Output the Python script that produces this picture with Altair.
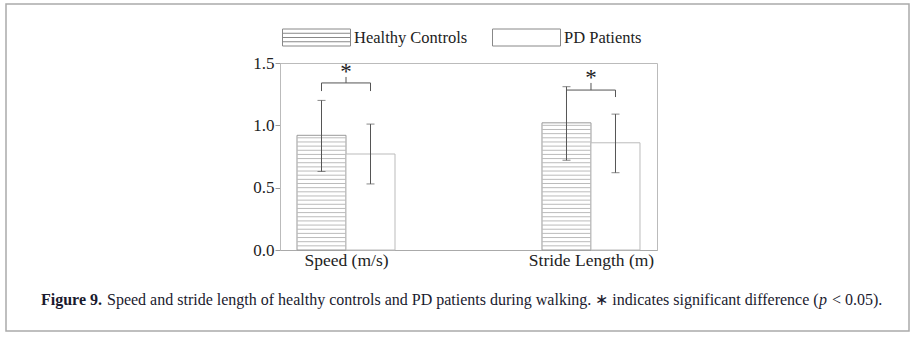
import altair as alt
import numpy as np
import pandas as pd

# ---- data ----
categories = ["Speed (m/s)", "Stride Length (m)"]
groups = ["Healthy Controls", "PD Patients"]
hc_mean = [0.92, 1.02]
pd_mean = [0.77, 0.86]
hc_low = [0.63, 0.72]
hc_high = [1.20, 1.31]
pd_low = [0.53, 0.62]
pd_high = [1.01, 1.09]
# significance brackets (y of bar, y of leg ends, y of stem top, y of star)
br_y = [1.34, 1.283]
br_leg = [1.275, 1.227]
br_stem = [1.388, 1.340]
star_y = [1.425, 1.378]
caption_bold = "Figure 9."
caption_a = ("Speed and stride length of healthy controls and PD patients during walking. "
             "\u2217 indicates significant difference (")
caption_p = "p"
caption_b = "<\u00a00.05)."

BW = 0.2  # bar width in category units
SERIF = "Liberation Serif"

rows = []
for i, c in enumerate(categories):
    rows.append(dict(cat=c, group=groups[0], x0=i - BW, x1=i, xc=i - BW / 2,
                     mean=hc_mean[i], lo=hc_low[i], hi=hc_high[i]))
    rows.append(dict(cat=c, group=groups[1], x0=i, x1=i + BW, xc=i + BW / 2,
                     mean=pd_mean[i], lo=pd_low[i], hi=pd_high[i]))
bars = pd.DataFrame(rows)

# horizontal hatch texture for healthy-control bars
hatch_rows = []
step = 1 / 30
for r in rows:
    if r["group"] == groups[0]:
        for h in np.arange(step, r["mean"], step):
            hatch_rows.append(dict(x0=r["x0"], x1=r["x1"], h=h))
hatch = pd.DataFrame(hatch_rows)

brk = pd.DataFrame(dict(xl=[i - BW / 2 for i in range(2)], xr=[i + BW / 2 for i in range(2)],
                        xm=list(range(2)), y=br_y, leg=br_leg, stem=br_stem, star=star_y))

xscale = alt.Scale(domain=[-0.2694, 1.2694], nice=False, zero=False)
yscale = alt.Scale(domain=[0, 1.5], nice=False)
label_expr = "datum.value == 0 ? '%s' : '%s'" % (categories[0], categories[1])

xax = alt.Axis(values=[0, 1], labelExpr=label_expr, ticks=False, grid=False, title=None,
               labelFont=SERIF, labelFontSize=17.5, labelColor="#222", domainColor="#aaa",
               labelPadding=1)
yax = alt.Axis(values=[0, 0.5, 1.0, 1.5], format=".1f", grid=False, title=None,
               labelFont=SERIF, labelFontSize=17, labelColor="#222", domainColor="#bbb",
               tickColor="#999", tickSize=5, labelPadding=1)

base = alt.Chart(bars)

bar_hc = base.transform_filter(alt.datum.group == groups[0]).mark_rect(
    fill="white", stroke="#999", strokeWidth=1).encode(
    x=alt.X("x0:Q", scale=xscale, axis=xax), x2="x1:Q",
    y=alt.Y("mean:Q", scale=yscale, axis=yax), y2=alt.datum(0))
bar_pd = base.transform_filter(alt.datum.group == groups[1]).mark_rect(
    fill="white", stroke="#bbb", strokeWidth=1).encode(
    x=alt.X("x0:Q", scale=xscale), x2="x1:Q",
    y=alt.Y("mean:Q", scale=yscale), y2=alt.datum(0))

hatch_l = alt.Chart(hatch).mark_rule(color="#bbb", strokeWidth=1).encode(
    x=alt.X("x0:Q", scale=xscale), x2="x1:Q", y=alt.Y("h:Q", scale=yscale))

err = base.mark_errorbar(ticks=alt.MarkConfig(size=8), color="#555", thickness=1).encode(
    x=alt.X("xc:Q", scale=xscale), y=alt.Y("lo:Q", scale=yscale, title=None), y2="hi:Q")

bc = alt.Chart(brk)
br_h = bc.mark_rule(color="#555").encode(
    x=alt.X("xl:Q", scale=xscale), x2="xr:Q", y=alt.Y("y:Q", scale=yscale))
br_l = bc.mark_rule(color="#555").encode(
    x=alt.X("xl:Q", scale=xscale), y=alt.Y("leg:Q", scale=yscale), y2="y:Q")
br_r = bc.mark_rule(color="#555").encode(
    x=alt.X("xr:Q", scale=xscale), y=alt.Y("leg:Q", scale=yscale), y2="y:Q")
br_s = bc.mark_rule(color="#555").encode(
    x=alt.X("xm:Q", scale=xscale), y=alt.Y("y:Q", scale=yscale), y2="stem:Q")
stars = bc.mark_text(text="*", font=SERIF, fontSize=23, color="#222", baseline="middle").encode(
    x=alt.X("xm:Q", scale=xscale), y=alt.Y("star:Q", scale=yscale))

# legend built from an empty point layer with custom swatch shapes
hatch_path = ("M-1,-0.25H1V0.25H-1Z M-1,-0.125H1 M-1,0H1 M-1,0.125H1")
plain_path = "M-1,-0.25H1V0.25H-1Z"
legend_layer = base.transform_filter("false").mark_point(
    filled=False, color="#888", opacity=1, strokeWidth=1, size=4624).encode(
    x=alt.X("xc:Q", scale=xscale), y=alt.Y("mean:Q", scale=yscale),
    shape=alt.Shape("group:N", scale=alt.Scale(domain=groups, range=[hatch_path, plain_path]),
                    legend=alt.Legend(title=None, orient="none", legendX=2, legendY=-60,
                                      direction="horizontal", symbolSize=4624,
                                      symbolStrokeColor="#888", symbolOpacity=1,
                                      symbolStrokeWidth=1, labelFont=SERIF, labelFontSize=16.5,
                                      labelColor="#222", labelOffset=3, columnPadding=22)))

one = pd.DataFrame({"k": [0]})
frame = alt.Chart(one).mark_rect(fill="transparent", stroke="#aaa", strokeWidth=1.5).encode(
    x=alt.value(-274), x2=alt.value(629), y=alt.value(-59), y2=alt.value(268))
cap_style = dict(font=SERIF, fontSize=16, color="#1a1a2e", align="left", baseline="middle")
cap1 = alt.Chart(one).mark_text(text=caption_bold, fontWeight="bold", **cap_style).encode(
    x=alt.value(-239), y=alt.value(237))
cap2 = alt.Chart(one).mark_text(text=caption_a, **cap_style).encode(
    x=alt.value(-173), y=alt.value(237))
cap3 = alt.Chart(one).mark_text(text=caption_p, fontStyle="italic", **cap_style).encode(
    x=alt.value(539), y=alt.value(237))
cap4 = alt.Chart(one).mark_text(text=caption_b, **cap_style).encode(
    x=alt.value(552), y=alt.value(237))

chart = alt.layer(frame, bar_hc, bar_pd, hatch_l, err, br_h, br_l, br_r, br_s, stars,
                  legend_layer, cap1, cap2, cap3, cap4).properties(
    width=377, height=187,
    autosize=alt.AutoSizeParams(type="none"),
    padding={"left": 280, "top": 63, "right": 256, "bottom": 87},
    background="white",
).configure_view(stroke="#bbb", strokeWidth=1)

chart.save("out.html", embed_options={"renderer": "svg", "actions": False})
